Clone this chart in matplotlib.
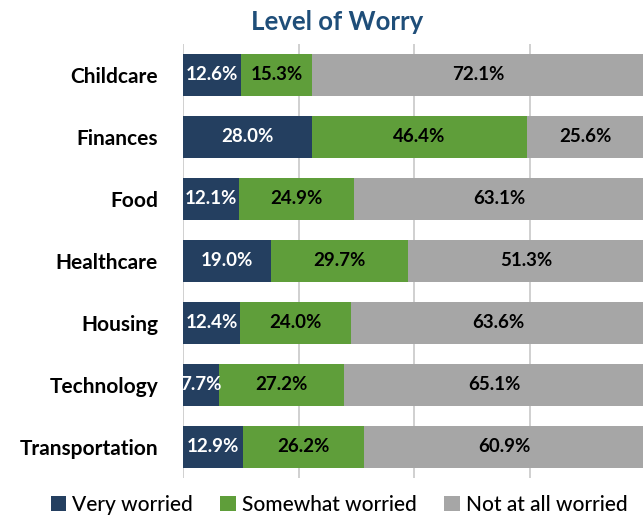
import matplotlib
matplotlib.use("Agg")
import matplotlib.pyplot as plt
from matplotlib.patches import Patch

categories = ["Childcare", "Finances", "Food", "Healthcare", "Housing", "Technology", "Transportation"]
very = [12.6, 28.0, 12.1, 19.0, 12.4, 7.7, 12.9]
somewhat = [15.3, 46.4, 24.9, 29.7, 24.0, 27.2, 26.2]
notatall = [72.1, 25.6, 63.1, 51.3, 63.6, 65.1, 60.9]
series_names = ["Very worried", "Somewhat worried", "Not at all worried"]
colors = ["#243F60", "#5F9E3A", "#A6A6A6"]
text_colors = ["white", "black", "black"]

plt.rcParams["font.family"] = ["Lato", "DejaVu Sans"]

fig = plt.figure(figsize=(6.43, 5.19), dpi=100)
ax = fig.add_axes([183/643, 1-478/519, 462/643, 434/519])

y = list(range(len(categories)))
lefts = [0.0]*len(categories)
for vals, col, tc in zip([very, somewhat, notatall], colors, text_colors):
    ax.barh(y, vals, left=lefts, height=0.68, color=col, zorder=3)
    for yi, l, v in zip(y, lefts, vals):
        ax.text(l + v/2, yi, f"{v:.1f}%", ha="center", va="center",
                color=tc, fontsize=13.5, fontweight="bold", zorder=4)
    lefts = [a + b for a, b in zip(lefts, vals)]

ax.set_xlim(0, 100)
ax.set_ylim(6.5, -0.5)
ax.set_xticks([0, 25, 50, 75, 100])
ax.set_xticklabels([])
ax.tick_params(axis="x", length=0)
ax.set_yticks(y)
ax.set_yticklabels(categories, fontsize=15, fontweight="bold")
ax.tick_params(axis="y", length=0, pad=18)
ax.grid(axis="x", color="#C8C8C8", linewidth=1.2, zorder=0)
for s in ax.spines.values():
    s.set_visible(False)

fig.text(337/643, 1-22/519, "Level of Worry", ha="center", va="center",
         fontsize=18.5, fontweight="bold", color="#1F4E79")

handles = [Patch(facecolor=c, label=n) for c, n in zip(colors, series_names)]
fig.legend(handles=handles, loc="center", bbox_to_anchor=(339/643, 1-505/519),
           ncol=3, frameon=False, fontsize=15, handlelength=0.75, handleheight=0.75,
           handletextpad=0.3, columnspacing=1.3,
           prop={"size": 15, "weight": "medium"})

fig.savefig("out.png", dpi=100)
